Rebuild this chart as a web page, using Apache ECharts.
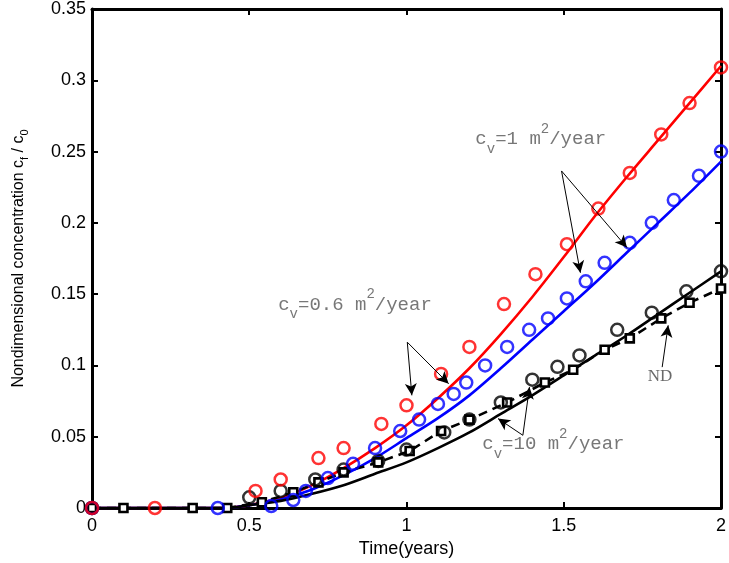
<!DOCTYPE html>
<html><head><meta charset="utf-8">
<script src="https://cdn.jsdelivr.net/npm/echarts@6/dist/echarts.min.js"></script>
<style>html,body{margin:0;padding:0;background:#fff}#c{width:729px;height:563px}</style>
</head><body><div id="c"></div>
<script>
// x positions of the solid / model curves
const lineX = [0,0.1,0.2,0.3,0.4,0.45,0.5,0.6,0.7,0.8,0.9,1.0,1.1,1.2,1.3,1.4,1.5,1.6,1.7,1.8,1.9,2.0];
const redLine   = [0,0,0,0,0,0.0005,0.002,0.007,0.016,0.028,0.042,0.058,0.077,0.098,0.122,0.148,0.176,0.205,0.232,0.258,0.284,0.310];
const blueLine  = [0,0,0,0,0,0.0004,0.002,0.006,0.013,0.023,0.035,0.049,0.063,0.079,0.098,0.118,0.138,0.158,0.179,0.200,0.221,0.243];
const blackLine = [0,0,0,0,0,0.0003,0.002,0.005,0.010,0.016,0.024,0.032,0.042,0.053,0.066,0.079,0.093,0.107,0.121,0.136,0.151,0.166];

// circles (cv = 1, 0.6, 10)
const redX = [0,0.2,0.52,0.6,0.72,0.8,0.92,1.0,1.11,1.2,1.31,1.41,1.51,1.61,1.71,1.81,1.9,2.0];
const redY = [0,0,0.012,0.020,0.035,0.042,0.059,0.072,0.094,0.113,0.143,0.164,0.185,0.210,0.235,0.262,0.284,0.309];
const blueX = [0,0.4,0.57,0.64,0.68,0.75,0.83,0.9,0.98,1.04,1.1,1.15,1.19,1.25,1.32,1.39,1.45,1.51,1.57,1.63,1.71,1.78,1.85,1.93,2.0];
const blueY = [0,0,0.0014,0.0056,0.012,0.021,0.031,0.042,0.054,0.062,0.073,0.080,0.088,0.100,0.113,0.125,0.133,0.147,0.159,0.172,0.186,0.200,0.216,0.233,0.250];
const blackX = [0,0.5,0.6,0.71,0.8,0.91,1.0,1.12,1.2,1.3,1.4,1.48,1.55,1.67,1.78,1.89,2.0];
const blackY = [0,0.0075,0.012,0.020,0.027,0.033,0.041,0.053,0.062,0.074,0.090,0.099,0.107,0.125,0.137,0.152,0.166];

// ND (squares on dashed line)
const ndX = [0,0.1,0.32,0.43,0.54,0.64,0.72,0.8,0.91,1.01,1.11,1.2,1.32,1.44,1.53,1.63,1.71,1.81,1.9,2.0];
const ndY = [0,0,0,0,0.004,0.011,0.018,0.025,0.032,0.040,0.054,0.062,0.074,0.088,0.097,0.111,0.119,0.133,0.144,0.154];

const xTicks = [0,0.5,1,1.5,2];
const yTicks = [0,0.05,0.1,0.15,0.2,0.25,0.3,0.35];

// annotation texts and arrows (data coordinates)
const notes = [
  {text:'{c|c}{s|v}{c|=1 m}{p|2}{c|/year}', at:[1.219,0.2587]},
  {text:'{c|c}{s|v}{c|=0.6 m}{p|2}{c|/year}', at:[0.592,0.1427]},
  {text:'{c|c}{s|v}{c|=10 m}{p|2}{c|/year}', at:[1.241,0.0448]},
  {text:'{n|ND}', at:[1.767,0.0923]}
];
const arrows = [
  [[1.493,0.2364],[1.701,0.1827]],
  [[1.493,0.2364],[1.553,0.165]],
  [[1.0025,0.1163],[1.017,0.079]],
  [[1.0025,0.1163],[1.134,0.0872]],
  [[1.37,0.051],[1.291,0.0627]],
  [[1.37,0.051],[1.391,0.0848]],
  [[1.813,0.0988],[1.832,0.1281]]
];

const zip = (a,b) => a.map((v,i)=>[v,b[i]]);
const circ = (col) => ({color:'rgba(0,0,0,0)', borderColor:col, borderWidth:2.5});
const FONT = 'Liberation Sans, Arial, sans-serif';

const chart = echarts.init(document.getElementById('c'));
chart.setOption({
  animation:false,
  backgroundColor:'#fff',
  grid:{left:91, right:4, top:8, bottom:55, containLabel:false},
  xAxis:[{
    type:'value', min:0, max:2, interval:0.5,
    name:'Time(years)', nameLocation:'middle', nameGap:29,
    nameTextStyle:{fontFamily:FONT, fontSize:18, color:'#000'},
    axisLine:{show:true, onZero:false, lineStyle:{color:'#000', width:3}},
    axisTick:{show:true, inside:true, length:6, lineStyle:{color:'#000', width:2}},
    axisLabel:{fontFamily:FONT, fontSize:18, color:'#000', margin:9,
      formatter:v=> xTicks.includes(v)? String(v) : ''},
    splitLine:{show:false}
  },{
    type:'value', min:0, max:2, interval:0.5, position:'top',
    axisLine:{show:true, onZero:false, lineStyle:{color:'#000', width:3}},
    axisTick:{show:true, inside:true, length:6, lineStyle:{color:'#000', width:2}},
    axisLabel:{show:false}, splitLine:{show:false}
  }],
  yAxis:[{
    type:'value', min:0, max:0.35, interval:0.05,
    name:'Nondimensional concentration c{sub|f} / c{sub|0}',
    nameLocation:'middle', nameGap:62,
    nameTextStyle:{fontFamily:FONT, fontSize:16, color:'#000', lineHeight:22,
      rich:{sub:{fontFamily:FONT, fontSize:11, color:'#000', lineHeight:12, verticalAlign:'bottom'}}},
    axisLine:{show:true, onZero:false, lineStyle:{color:'#000', width:3}},
    axisTick:{show:true, inside:true, length:6, lineStyle:{color:'#000', width:2}},
    axisLabel:{fontFamily:FONT, fontSize:18, color:'#000', margin:6,
      formatter:v=>{const t=yTicks.find(k=>Math.abs(k-v)<1e-9); return t===undefined?'':String(t);}},
    splitLine:{show:false}
  },{
    type:'value', min:0, max:0.35, interval:0.05, position:'right',
    axisLine:{show:true, onZero:false, lineStyle:{color:'#000', width:3}},
    axisTick:{show:true, inside:true, length:6, lineStyle:{color:'#000', width:2}},
    axisLabel:{show:false}, splitLine:{show:false}
  }],
  series:[
    {type:'line', data:zip(lineX,redLine), showSymbol:false, smooth:0.3, lineStyle:{color:'#ff0000', width:2.6}, z:2},
    {type:'line', data:zip(lineX,blueLine), showSymbol:false, smooth:0.3, lineStyle:{color:'#0000ff', width:2.6}, z:2},
    {type:'line', data:zip(lineX,blackLine), showSymbol:false, smooth:0.3, lineStyle:{color:'#000', width:2.6}, z:2},
    {type:'line', data:zip(ndX,ndY), symbol:'rect', symbolSize:8, showAllSymbol:true,
      lineStyle:{color:'#000', width:2.6, type:[9,6]},
      itemStyle:{color:'#fff', borderColor:'#000', borderWidth:2.6}, z:3},
    {type:'scatter', data:zip(blackX,blackY), symbol:'circle', symbolSize:12, itemStyle:circ('#000'), z:4},
    {type:'scatter', data:zip(blueX,blueY), symbol:'circle', symbolSize:12, itemStyle:circ('#0000ff'), z:4},
    {type:'scatter', data:zip(redX,redY), symbol:'circle', symbolSize:12, itemStyle:circ('#ff0000'), z:4},
    {type:'scatter', symbolSize:0, z:6, silent:true,
      data:notes.map(n=>({value:n.at, label:{show:true, position:'right', distance:0, formatter:n.text}})),
      label:{rich:{
        c:{fontFamily:'Liberation Mono, monospace', fontSize:19, color:'#555', lineHeight:34, verticalAlign:'middle'},
        s:{fontFamily:'Liberation Mono, monospace', fontSize:14, color:'#555', lineHeight:14, verticalAlign:'bottom'},
        p:{fontFamily:'Liberation Mono, monospace', fontSize:14, color:'#555', lineHeight:14, verticalAlign:'top'},
        n:{fontFamily:'Liberation Serif, serif', fontSize:17, color:'#444', lineHeight:20}
      }},
      markLine:{silent:true, symbol:['none','arrow'], symbolSize:[9,12], animation:false,
        label:{show:false}, lineStyle:{color:'#000', width:1, type:'solid'},
        data:arrows.map(a=>[{coord:a[0]},{coord:a[1]}])}
    }
  ]
});
</script>
</body></html>
